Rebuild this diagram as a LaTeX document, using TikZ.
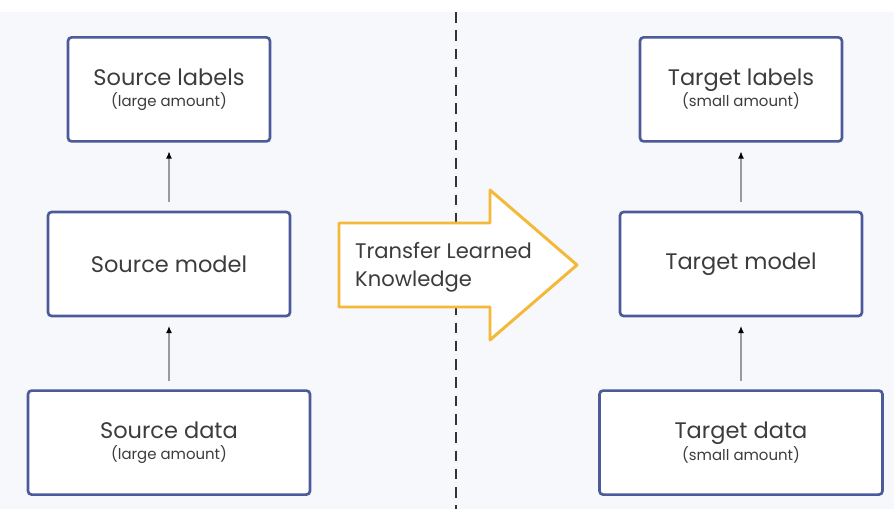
\documentclass[tikz,border=0pt]{standalone}
\usepackage{fontspec}
\setmainfont{Poppins}
\usepackage{tikz}
\usetikzlibrary{positioning, arrows.meta}
\definecolor{boxNavy}{HTML}{4D5A9A}
\definecolor{arrowGold}{HTML}{F4B93A}
\definecolor{pageGrey}{HTML}{F7F8FB}
\definecolor{textGrey}{HTML}{3C3C3C}
\definecolor{linkGrey}{HTML}{9A9A9A}
\tikzset{
  box/.style={draw=boxNavy, line width=1.5pt, rounded corners=2pt, fill=white,
              minimum height=2.08cm, align=center, text=textGrey, font=\fontsize{12.8}{15}\selectfont},
  link/.style={draw=linkGrey, line width=0.6pt, -{Latex[length=4pt,width=3.4pt,color=black]},
               shorten <=5pt, shorten >=5pt},
  divider/.style={draw=black!80, line width=1.4pt, dash pattern=on 6pt off 4.4pt}
}
\newcommand{\amount}[1]{\\[-3pt]{\fontsize{8.5}{10}\selectfont (#1)}}

\begin{document}
\begin{tikzpicture}[x=0.02cm, y=-0.02cm]
\useasboundingbox (0,0) rectangle (894,509);
\fill[white] (0,0) rectangle (894,509);
\fill[pageGrey] (0,12) rectangle (894,509);

% dashed split line
\coordinate (divtop) at (456,12);
\coordinate (divbot) at (456,509);
\draw[divider] (divtop) -- (divbot);

% source side
\node[box, minimum width=4.84cm] (smodel) at (169,264) {Source model};
\node[box, minimum width=4.04cm, above=1.36cm of smodel] (slabels)
  {Source labels\amount{large amount}};
\node[box, minimum width=5.64cm, below=1.44cm of smodel] (sdata)
  {Source data\amount{large amount}};

% target side
\node[box, minimum width=4.84cm] (tmodel) at (741,264) {Target model};
\node[box, minimum width=4.04cm, above=1.36cm of tmodel] (tlabels)
  {Target labels\amount{small amount}};
\node[box, minimum width=5.66cm, below=1.44cm of tmodel] (tdata)
  {Target data\amount{small amount}};

\draw[link] (sdata) -- (smodel);
\draw[link] (smodel) -- (slabels);
\draw[link] (tdata) -- (tmodel);
\draw[link] (tmodel) -- (tlabels);

% big transfer arrow
\draw[draw=arrowGold, line width=1.7pt, fill=white, line join=round]
  (339,223) -- (490,223) -- (490,190) -- (577,265) -- (490,340)
  -- (490,307) -- (339,307) -- cycle;
\node[anchor=west, align=left, text=textGrey, font=\fontsize{12}{16}\selectfont]
  (transfer) at (349,267) {Transfer Learned\\Knowledge};
\end{tikzpicture}
\end{document}
